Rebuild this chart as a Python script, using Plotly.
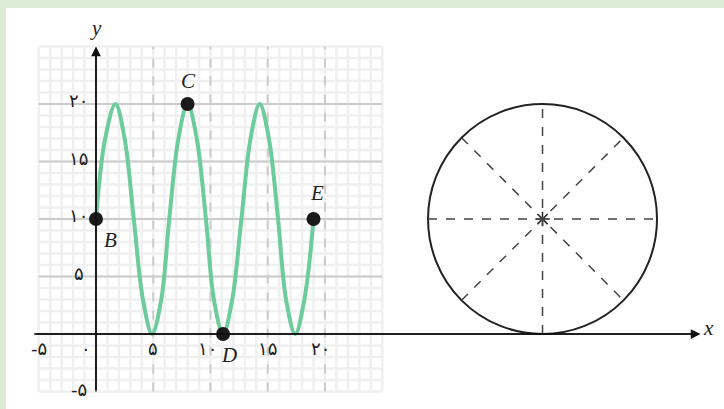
import plotly.graph_objects as go

# curve (x, y)
curve_x = [0, 0.8, 1.7, 2.5, 3.3, 4.1, 4.9, 5.7, 6.4, 7.2, 8.0, 8.8, 9.6,
           10.3, 11.1, 11.9, 12.7, 13.5, 14.3, 15.1, 15.9, 16.6, 17.4, 18.2, 19.0]
curve_y = [10, 17, 20, 17, 10, 3, 0, 3, 10, 17, 20, 17, 10,
           3, 0, 3, 10, 17, 20, 17, 10, 3, 0, 3, 10]

point_names = ["B", "C", "D", "E"]
point_x = [0, 8.0, 11.1, 19.0]
point_y = [10, 20, 0, 10]

tick_vals = [-5, 0, 5, 10, 15, 20]
tick_text = ["-۵", "۰", "۵", "۱۰", "۱۵", "۲۰"]

wheel_center = (39, 10)
wheel_radius = 10

fig = go.Figure()

# grid paper
shapes = []
for v in range(-5, 26):
    shapes.append(dict(type="line", x0=v, x1=v, y0=-5, y1=25, layer="below",
                       line=dict(color="#f0f0f0", width=2.5)))
    shapes.append(dict(type="line", x0=-5, x1=25, y0=v, y1=v, layer="below",
                       line=dict(color="#f0f0f0", width=2.5)))
for v in [5, 10, 15, 20]:
    shapes.append(dict(type="line", x0=v, x1=v, y0=-5, y1=25, layer="below",
                       line=dict(color="#cccccc", width=2, dash="dash")))
    shapes.append(dict(type="line", x0=-5, x1=25, y0=v, y1=v, layer="below",
                       line=dict(color="#cccccc", width=2)))

# wheel
cx, cy = wheel_center
r = wheel_radius
shapes.append(dict(type="circle", x0=cx - r, x1=cx + r, y0=cy - r, y1=cy + r,
                   line=dict(color="#222222", width=2)))
d = r * 0.7071
for dx, dy in [(r, 0), (0, r), (d, d), (d, -d)]:
    shapes.append(dict(type="line", x0=cx - dx, x1=cx + dx, y0=cy - dy, y1=cy + dy,
                       line=dict(color="#444444", width=1.5, dash="dash")))

# axis lines
shapes.append(dict(type="line", x0=-5.4, x1=52.5, y0=0, y1=0, line=dict(color="#111111", width=1.5)))
shapes.append(dict(type="line", x0=0, x1=0, y0=-5.0, y1=24.5, line=dict(color="#111111", width=1.5)))

fig.add_trace(go.Scatter(x=curve_x, y=curve_y, mode="lines",
                         line=dict(color="#6dcb9c", width=4, shape="spline", smoothing=1.0),
                         hoverinfo="skip"))
fig.add_trace(go.Scatter(x=point_x, y=point_y, mode="markers",
                         marker=dict(color="#1a1a1a", size=14), hoverinfo="skip"))
fig.add_trace(go.Scatter(x=[cx], y=[cy], mode="markers", hoverinfo="skip",
                         marker=dict(symbol="asterisk-open", size=12, color="#222222",
                                     line=dict(color="#222222", width=1.5))))

ann = []
# axes arrows
ann.append(dict(x=52.8, y=0, ax=-5.4, ay=0, xref="x", yref="y", axref="x", ayref="y",
                text="", showarrow=True, arrowhead=2, arrowsize=1.3, arrowwidth=1.5,
                arrowcolor="#111111"))
ann.append(dict(x=0, y=25.0, ax=0, ay=-5.0, xref="x", yref="y", axref="x", ayref="y",
                text="", showarrow=True, arrowhead=2, arrowsize=1.3, arrowwidth=1.5,
                arrowcolor="#111111"))
italic = dict(family="Liberation Serif", size=21, color="#222222")
ann.append(dict(x=53.5, y=0.5, text="<i>x</i>", showarrow=False, font=italic))
ann.append(dict(x=0, y=26.6, text="<i>y</i>", showarrow=False, font=italic))

# point labels
label_offsets = {"B": (1.3, -1.8), "C": (0.1, 2.0), "D": (0.5, -1.8), "E": (0.3, 2.3)}
for name, px, py in zip(point_names, point_x, point_y):
    ox, oy = label_offsets[name]
    ann.append(dict(x=px + ox, y=py + oy, text="<i>%s</i>" % name, showarrow=False, font=italic))

digit_font = dict(family="DejaVu Sans", size=18, color="#222222")
x_label_shift = {-5: 0.0, 0: -0.9, 5: 0.0, 10: -0.3, 15: 0.0, 20: -0.4}
for v, t in zip(tick_vals, tick_text):
    ann.append(dict(x=v + x_label_shift[v], y=-1.3, text=t, showarrow=False, font=digit_font))
for v, t in zip(tick_vals, tick_text):
    if v == 0:
        continue
    ann.append(dict(x=-1.5, y=v + (0.3 if v > 0 else 0.2), text=t, showarrow=False, font=digit_font))

fig.update_layout(
    width=724, height=409,
    margin=dict(l=6, r=0, t=8, b=0),
    paper_bgcolor="#dcebd5",
    plot_bgcolor="white",
    showlegend=False,
    shapes=shapes,
    annotations=ann,
    xaxis=dict(range=[-7.86, 54.85], visible=False, fixedrange=True),
    yaxis=dict(range=[-6.52, 28.35], visible=False, fixedrange=True),
)

fig.write_html("out.html", config={"displayModeBar": False},
               post_script="document.body.style.margin='0';")
